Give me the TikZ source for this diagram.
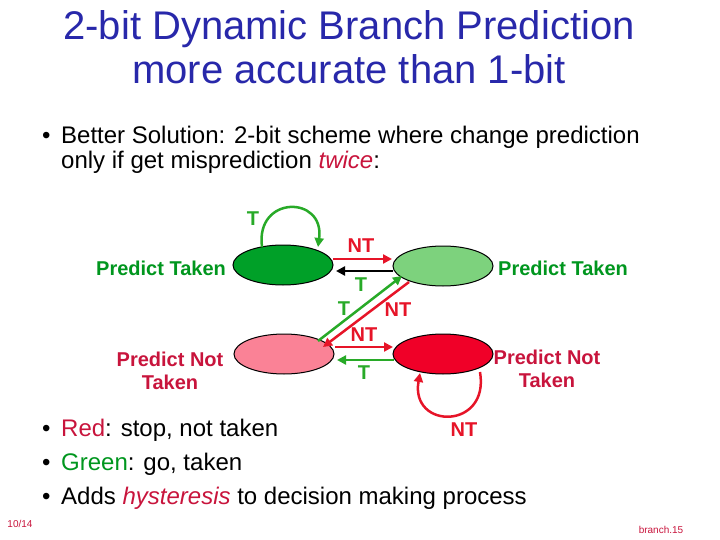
\documentclass[tikz,border=0pt]{standalone}
\usepackage{fontspec}
\setmainfont{Liberation Sans}
\usetikzlibrary{arrows.meta,shapes.geometric}
\definecolor{ttl}{RGB}{40,40,170}
\definecolor{gtxt}{RGB}{0,150,30}
\definecolor{rtxt}{RGB}{200,20,60}
\definecolor{dg}{RGB}{0,160,40}
\definecolor{lg}{RGB}{125,210,125}
\definecolor{pk}{RGB}{250,130,150}
\definecolor{rd}{RGB}{240,0,40}
\definecolor{arG}{RGB}{40,170,40}
\definecolor{arR}{RGB}{230,20,40}
\begin{document}
\begin{tikzpicture}[x=1pt,y=-1pt,
 st/.style={ellipse,draw=black,line width=1pt,minimum width=100pt,minimum height=40pt,inner sep=0pt},
 ar/.style={line width=2.5pt,-{Triangle[length=9pt,width=9pt]}},
 lb/.style={font=\fontsize{20}{20}\selectfont\bfseries},
 side/.style={font=\fontsize{20}{23}\selectfont\bfseries,align=center}]
\useasboundingbox (0,0) rectangle (720,540);
\node[text=ttl,font=\fontsize{40}{44}\selectfont,align=center] (title) at (349,47) {2-bit Dynamic Branch Prediction\\more accurate than 1-bit};
\node[anchor=north west,font=\fontsize{24}{25}\selectfont,align=left,inner sep=0pt] (b1) at (42,126) {\hbox to 19pt{\textbullet\hss}Better Solution: 2-bit scheme where change prediction\\\hbox to 19pt{\hss}only if get misprediction \textcolor{rtxt}{\itshape twice}:};
\node[st,fill=dg] (s3) at (283,265) {};
\node[st,fill=lg] (s2) at (443,266) {};
\node[st,fill=pk] (s1) at (284,354) {};
\node[st,fill=rd] (s0) at (443,354) {};
\node[side,text=gtxt] (l3) at (161,268) {Predict Taken};
\node[side,text=gtxt] (l2) at (563,268) {Predict Taken};
\node[side,text=rtxt] (l1) at (170,371) {Predict Not\\Taken};
\node[side,text=rtxt] (l0) at (547,369) {Predict Not\\Taken};
\coordinate (a1) at (333,259); \coordinate (a2) at (392,259);
\draw[ar,arR] (a1) -- (a2);
\coordinate (b1s) at (393,271); \coordinate (b1e) at (336,271);
\draw[ar,black] (b1s) -- (b1e);
\coordinate (c1) at (318,341); \coordinate (c2) at (402,276);
\draw[ar,arG] (c1) -- (c2);
\coordinate (d1) at (409,282); \coordinate (d2) at (323,347);
\draw[ar,arR] (d1) -- (d2);
\coordinate (e1) at (335,347); \coordinate (e2) at (393,347);
\draw[ar,arR] (e1) -- (e2);
\coordinate (f1) at (394,360); \coordinate (f2) at (337,360);
\draw[ar,arG] (f1) -- (f2);
\coordinate (g1) at (262,247); \coordinate (g2) at (318,247);
\draw[ar,arG] (g1) .. controls (255,195) and (325,195) .. (g2);
\coordinate (h1) at (480,372); \coordinate (h2) at (420,373);
\draw[ar,arR] (h1) .. controls (490,430) and (410,430) .. (h2);
\node[lb,text=arG] (tl) at (253,219) {T};
\node[lb,text=arR] (t1) at (361,246) {NT};
\node[lb,text=arG] (t2) at (361,285) {T};
\node[lb,text=arG] (t3) at (344,309) {T};
\node[lb,text=arR] (t4) at (398,310) {NT};
\node[lb,text=arR] (t5) at (364,335) {NT};
\node[lb,text=arG] (t6) at (364,373) {T};
\node[lb,text=arR] (t7) at (464,430) {NT};
\node[anchor=north west,font=\fontsize{24}{34}\selectfont,align=left,inner sep=0pt] (b2) at (42,419) {\hbox to 19pt{\textbullet\hss}\textcolor{rtxt}{Red}: stop, not taken\\\hbox to 19pt{\textbullet\hss}\textcolor{gtxt}{Green}: go, taken\\\hbox to 19pt{\textbullet\hss}Adds \textcolor{rtxt}{\itshape hysteresis} to decision making process};
\node[text=rtxt,font=\fontsize{10}{10}\selectfont] (pg) at (20,524) {10/14};
\node[text=rtxt,font=\fontsize{10}{10}\selectfont] (br) at (661,530) {branch.15};
\end{tikzpicture}
\end{document}
